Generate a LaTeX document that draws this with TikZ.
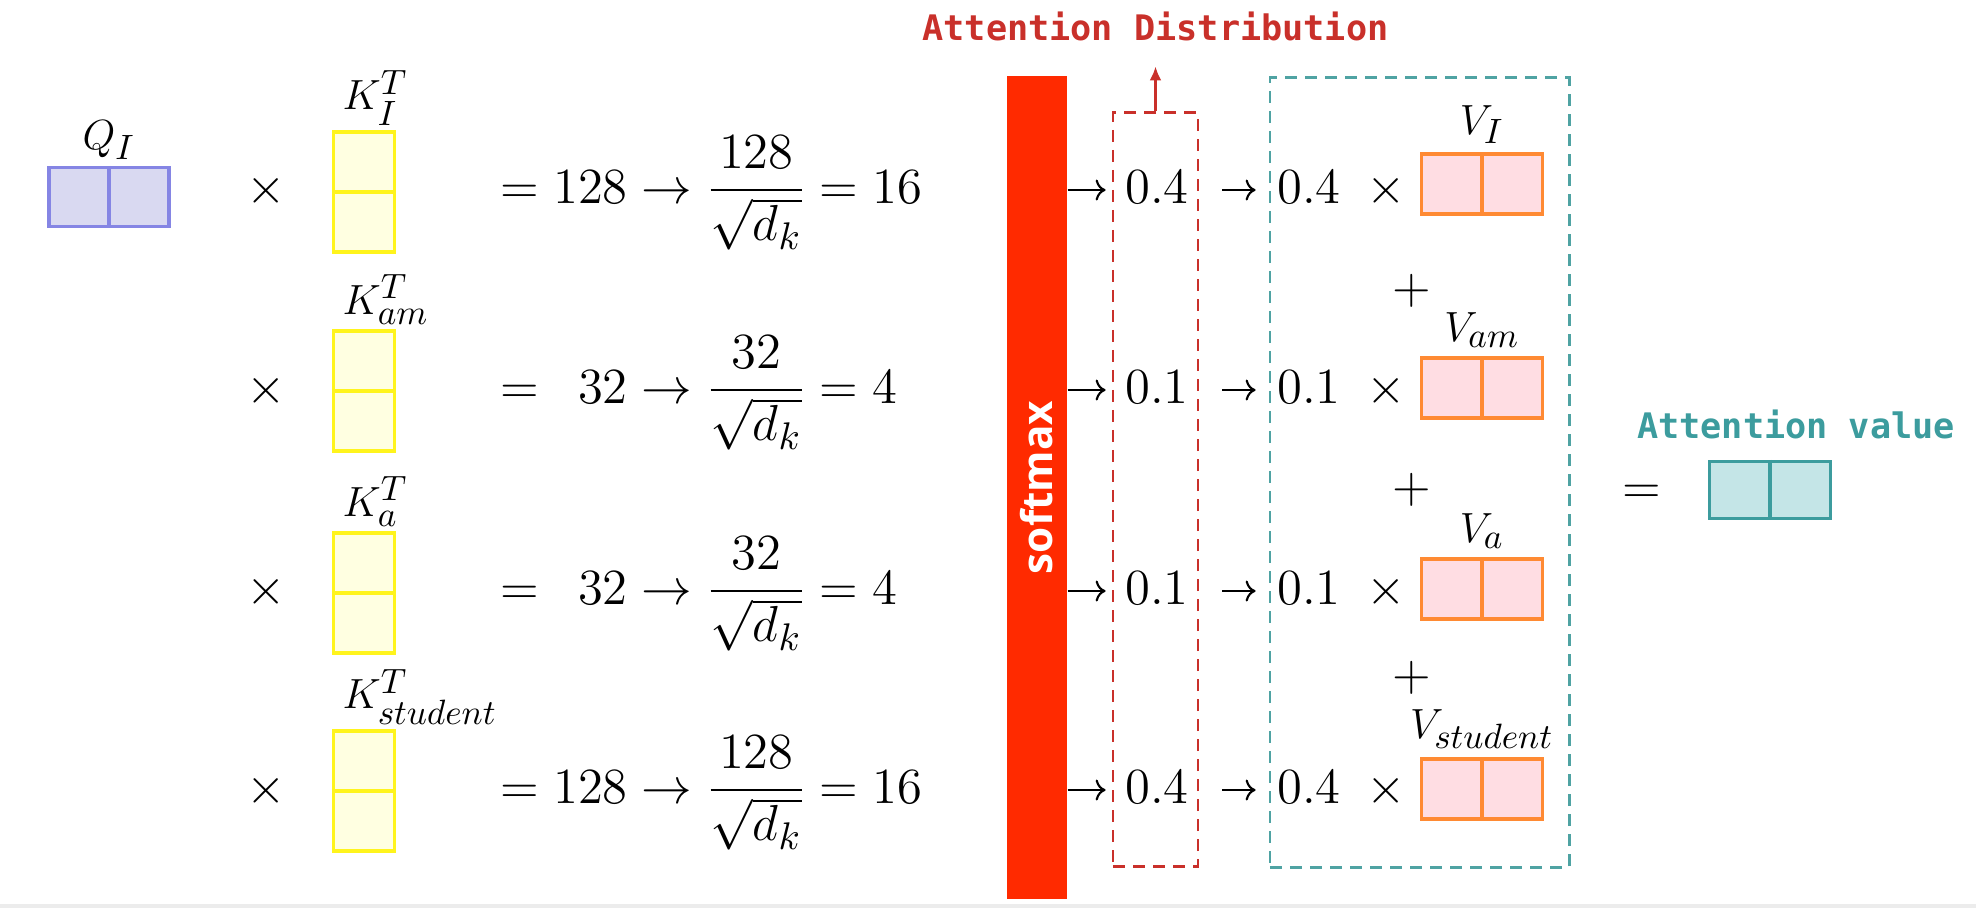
\documentclass[tikz,border=0pt]{standalone}
\usepackage{amsfonts, amssymb, amsmath}
\usepackage{fontspec}
\usepackage{tikz}
\usetikzlibrary{positioning, arrows.meta}
\usepackage{xcolor}

\newfontfamily\codefont{DejaVu Sans Mono}
\newfontfamily\barfont{Open Sans}
\DeclareMathSizes{12.5}{12.5}{10}{7.5}

\definecolor{QLine}{HTML}{8585E4}
\definecolor{QFill}{HTML}{D9D9F1}
\definecolor{KLine}{HTML}{FFF41C}
\definecolor{KFill}{HTML}{FFFFE1}
\definecolor{VLine}{HTML}{FF8A33}
\definecolor{VFill}{HTML}{FFDDE3}
\definecolor{ALine}{HTML}{3C9C9E}
\definecolor{AFill}{HTML}{C4E5E7}
\definecolor{SoftRed}{HTML}{FF2A00}
\definecolor{DistRed}{HTML}{C9302A}
\definecolor{SumTeal}{HTML}{4FA3A3}

\begin{document}
\begin{tikzpicture}[
    x=0.01cm, y=-0.01cm,
    every node/.style={inner sep=0pt},
    mathtxt/.style={font=\fontsize{15}{18}\selectfont, text height=11.25pt, text depth=3.75pt},
    eqn/.style={font=\fontsize{15}{18}\selectfont, anchor=base west},
    veclab/.style={font=\fontsize{12.5}{15}\selectfont},
    qbox/.style={draw=QLine, fill=QFill, line width=.9pt, minimum width=1.2cm, minimum height=.59cm},
    kbox/.style={draw=KLine, fill=KFill, line width=.9pt, minimum width=.61cm, minimum height=1.2cm},
    vbox/.style={draw=VLine, fill=VFill, line width=.9pt, minimum width=1.21cm, minimum height=.6cm},
    abox/.style={draw=ALine, fill=AFill, line width=.9pt, minimum width=1.21cm, minimum height=.57cm},
    softbar/.style={fill=SoftRed, text=white, rotate=90, minimum width=8.23cm, minimum height=.6cm,
        font=\barfont\bfseries\fontsize{12}{14}\selectfont},
    distbox/.style={draw=DistRed, line width=.8pt, dash pattern=on .12cm off .08cm},
    sumbox/.style={draw=SumTeal, line width=.8pt, dash pattern=on .12cm off .08cm},
    wire/.style={-{To[length=.1cm]}, line width=.6pt},
    headtxt/.style={font=\codefont\bfseries\fontsize{10}{12}\selectfont}
]
\useasboundingbox (0,0) rectangle (1976,908);

% Query
\node[qbox] (q) at (109,197) {};
\draw[QLine, line width=.9pt] (q.north) -- (q.south);
\node[veclab, above=.06cm of q] {$Q_I$};

% Keys
\node[mathtxt] (t1) at (266,190) {$\times$};
\node[kbox] (kI) at (364,192) {};
\draw[KLine, line width=.9pt] (kI.west) -- (kI.east);
\node[veclab, anchor=south west] at ([xshift=.1cm, yshift=.04cm]kI.north west) {$K_I^T$};

\node[mathtxt] (t2) at (266,390) {$\times$};
\node[kbox] (kam) at (364,391) {};
\draw[KLine, line width=.9pt] (kam.west) -- (kam.east);
\node[veclab, anchor=south west] at ([xshift=.1cm, yshift=.04cm]kam.north west) {$K_{am}^T$};

\node[mathtxt] (t3) at (266,591) {$\times$};
\node[kbox] (ka) at (364,593) {};
\draw[KLine, line width=.9pt] (ka.west) -- (ka.east);
\node[veclab, anchor=south west] at ([xshift=.1cm, yshift=.04cm]ka.north west) {$K_a^T$};

\node[mathtxt] (t4) at (266,790) {$\times$};
\node[kbox] (kst) at (364,791) {};
\draw[KLine, line width=.9pt] (kst.west) -- (kst.east);
\node[veclab, anchor=south west] at ([xshift=.1cm, yshift=.04cm]kst.north west) {$K_{student}^T$};

% Scores
\node[eqn] (s1) at (500,203) {$= 128 \to \dfrac{128}{\sqrt{d_k}} = 16$};
\node[eqn] (s2) at (500,403) {$= \phantom{1}32 \to \dfrac{32}{\sqrt{d_k}} = 4$};
\node[eqn] (s3) at (500,604) {$= \phantom{1}32 \to \dfrac{32}{\sqrt{d_k}} = 4$};
\node[eqn] (s4) at (500,803) {$= 128 \to \dfrac{128}{\sqrt{d_k}} = 16$};

% Softmax and frames
\node[softbar] (soft) at (1037,487.5) {softmax};
\node[distbox, minimum width=.85cm, minimum height=7.53cm] (dist) at (1155.5,489.5) {};
\node[sumbox, minimum width=2.99cm, minimum height=7.89cm] (sum) at (1419.5,472.5) {};

\node[headtxt, text=DistRed, above=.7cm of dist] (distlab) {Attention Distribution};
\draw[DistRed, line width=.8pt, -{Latex[length=.14cm, width=.12cm]}, shorten >=.25cm] (dist) -- (distlab);

% Weights
\node[mathtxt] (p1) at (1157,190) {$0.4$};
\node[mathtxt] (p2) at (1157,390) {$0.1$};
\node[mathtxt] (p3) at (1157,591) {$0.1$};
\node[mathtxt] (p4) at (1157,790) {$0.4$};

\node[mathtxt] (w1) at (1309,190) {$0.4$};
\node[mathtxt] (w2) at (1309,390) {$0.1$};
\node[mathtxt] (w3) at (1309,591) {$0.1$};
\node[mathtxt] (w4) at (1309,790) {$0.4$};

\draw[wire, shorten >=.19cm] (soft.south |- p1) -- (p1);
\draw[wire, shorten >=.19cm] (soft.south |- p2) -- (p2);
\draw[wire, shorten >=.19cm] (soft.south |- p3) -- (p3);
\draw[wire, shorten >=.19cm] (soft.south |- p4) -- (p4);

\draw[wire, shorten <=.33cm, shorten >=.21cm] (p1) -- (w1);
\draw[wire, shorten <=.33cm, shorten >=.21cm] (p2) -- (w2);
\draw[wire, shorten <=.33cm, shorten >=.21cm] (p3) -- (w3);
\draw[wire, shorten <=.33cm, shorten >=.21cm] (p4) -- (w4);

% Values
\node[mathtxt] (x1) at (1386,190) {$\times$};
\node[vbox] (vI) at (1482,184) {};
\draw[VLine, line width=.9pt] (vI.north) -- (vI.south);
\node[veclab, above=.08cm of vI] {$V_I$};

\node[mathtxt] (plus1) at (1412,290) {$+$};

\node[mathtxt] (x2) at (1386,390) {$\times$};
\node[vbox] (vam) at (1482,388) {};
\draw[VLine, line width=.9pt] (vam.north) -- (vam.south);
\node[veclab, above=.08cm of vam] {$V_{am}$};

\node[mathtxt] (plus2) at (1412,489) {$+$};

\node[mathtxt] (x3) at (1386,591) {$\times$};
\node[vbox] (va) at (1482,589) {};
\draw[VLine, line width=.9pt] (va.north) -- (va.south);
\node[veclab, above=.08cm of va] {$V_a$};

\node[mathtxt] (plus3) at (1412,677) {$+$};

\node[mathtxt] (x4) at (1386,790) {$\times$};
\node[vbox] (vst) at (1482,789) {};
\draw[VLine, line width=.9pt] (vst.north) -- (vst.south);
\node[veclab, above=.08cm of vst] {$V_{student}$};

% Result
\node[abox] (att) at (1770,490) {};
\draw[ALine, line width=.9pt] (att.north) -- (att.south);
\node[mathtxt, left=.46cm of att] (eq) {$=$};
\node[headtxt, text=ALine, above=.2cm of att, xshift=.26cm] (attlab) {Attention value};

\fill[gray!15] (0,904) rectangle (1976,908);

\end{tikzpicture}
\end{document}
